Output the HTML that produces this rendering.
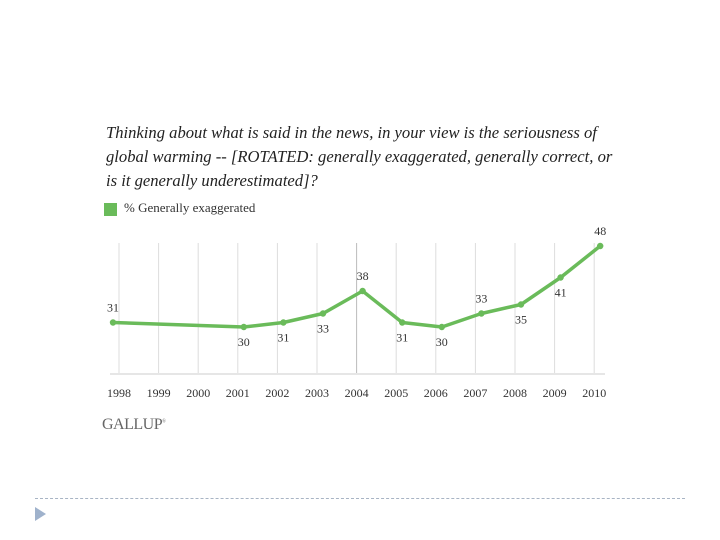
<!DOCTYPE html>
<html><head><meta charset="utf-8"><style>
body{margin:0;background:#fff;width:720px;height:540px;overflow:hidden;position:relative;font-family:"Liberation Serif",serif}
.t{position:absolute;left:106px;font-style:italic;font-size:16.6px;color:#222;white-space:nowrap}
</style></head><body>
<div class="t" style="top:123px">Thinking about what is said in the news, in your view is the seriousness of</div>
<div class="t" style="top:147px">global warming -- [ROTATED: generally exaggerated, generally correct, or</div>
<div class="t" style="top:171px">is it generally underestimated]?</div>
<div style="position:absolute;left:104px;top:203px;width:13px;height:13px;background:#6abb5a"></div>
<div style="position:absolute;left:124px;top:200px;font-size:13px;color:#333">% Generally exaggerated</div>
<svg id="chart" width="720" height="540" style="position:absolute;left:0;top:0"></svg>
<div style="position:absolute;left:102px;top:416px;font-size:16px;color:#666;letter-spacing:-0.5px">GALLUP<sup style="font-size:5px">®</sup></div>
<div style="position:absolute;left:35px;top:498px;width:650px;border-top:1px dashed #a8b4c4"></div>
<svg style="position:absolute;left:35px;top:507px" width="12" height="15"><polygon points="0,0 11,7 0,14" fill="#9fb2cc"/></svg>
<script>
const years=[1998,1999,2000,2001,2002,2003,2004,2005,2006,2007,2008,2009,2010];
const dataYears=[1998,2001,2002,2003,2004,2005,2006,2007,2008,2009,2010];
const values=[31,30,31,33,38,31,30,33,35,41,48];
const labelAbove=[true,false,false,false,true,false,false,true,false,false,true];
const NS="http://www.w3.org/2000/svg";
const svg=document.getElementById('chart');
const gx=y=>119+(y-1998)*39.6;
const px=y=>y===1998?gx(y)-6:gx(y)+6;
const py=v=>327-(v-30)*4.5;
function mk(t,a){const e=document.createElementNS(NS,t);for(const k in a)e.setAttribute(k,a[k]);svg.appendChild(e);return e;}
years.forEach(y=>{
 const l=mk('line',{x1:gx(y),x2:gx(y),y1:243,y2:373,stroke:y===2004?'#bbb':'#ddd','stroke-width':1});
 
 
 const t=mk('text',{x:gx(y),y:397,'text-anchor':'middle','font-size':12,fill:'#333','font-family':'Liberation Serif, serif'});
 t.textContent=y;
 
 
});
const base=mk('line',{x1:110,x2:605,y1:374,y2:374,stroke:'#ccc','stroke-width':1});


const pts=dataYears.map((y,i)=>px(y)+','+py(values[i])).join(' ');
const pl=mk('polyline',{points:pts,fill:'none',stroke:'#6abb5a','stroke-width':3.5,'stroke-linejoin':'round'});


dataYears.forEach((y,i)=>{
 const x=px(y),yy=py(values[i]);
 const c=mk('circle',{cx:x,cy:yy,r:3.2,fill:'#6abb5a'});
 
 
 const t=mk('text',{x:x,y:labelAbove[i]?yy-11:yy+19,'text-anchor':'middle','font-size':12,fill:'#333','font-family':'Liberation Serif, serif'});
 t.textContent=values[i];
 
 
});
</script>
</body></html>
